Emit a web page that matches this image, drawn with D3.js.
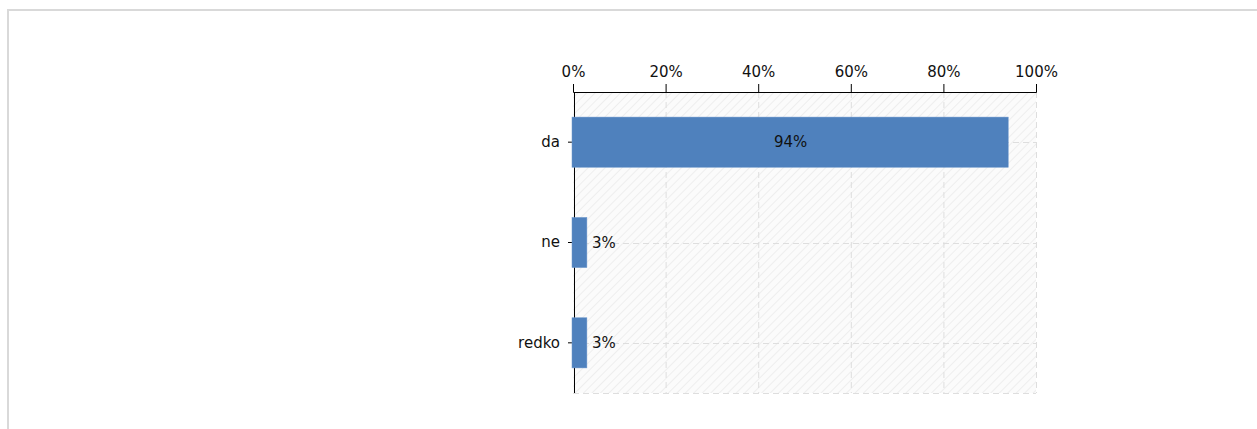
<!DOCTYPE html>
<html>
<head>
<meta charset="utf-8">
<script src="https://cdn.jsdelivr.net/npm/d3@7"></script>
<style>
  body { margin: 0; background: #fff; }
  svg { display: block; font-family: "DejaVu Sans", Verdana, sans-serif; }
</style>
</head>
<body>
<svg id="chart" width="1257" height="429"></svg>
<script>
const categories = ['da', 'ne', 'redko'];
const values = [94, 3, 3];
const tickValues = [0, 20, 40, 60, 80, 100];

const svg = d3.select('#chart');
const W = 1257, H = 429;
const plotLeft = 573, plotRight = 1036, plotTop = 92, plotBottom = 393;

// outer frame
svg.append('rect')
  .attr('x', 8).attr('y', 10)
  .attr('width', W + 10).attr('height', H + 10)
  .attr('fill', 'none').attr('stroke', '#d9d9d9').attr('stroke-width', 2);

const x = d3.scaleLinear().domain([0, 100]).range([plotLeft, plotRight]);
const y = d3.scaleBand().domain(categories).range([plotTop, plotBottom]).paddingInner(0.5).paddingOuter(0.25);

// hatch pattern
const defs = svg.append('defs');
const pat = defs.append('pattern')
  .attr('id', 'hatch').attr('patternUnits', 'userSpaceOnUse')
  .attr('width', 6).attr('height', 6)
  .attr('patternTransform', 'rotate(45)');
pat.append('rect').attr('width', 6).attr('height', 6).attr('fill', '#fbfbfb');
pat.append('line').attr('x1', 0).attr('y1', 0).attr('x2', 0).attr('y2', 6)
  .attr('stroke', '#eeeeee').attr('stroke-width', 2);

svg.append('rect')
  .attr('x', plotLeft).attr('y', plotTop)
  .attr('width', plotRight - plotLeft).attr('height', plotBottom - plotTop)
  .attr('fill', 'url(#hatch)');

// grid
const grid = svg.append('g').attr('stroke', '#dedede').attr('stroke-dasharray', '6,4').attr('fill', 'none');
grid.selectAll('line.v').data(tickValues.slice(1)).enter().append('line')
  .attr('x1', d => x(d) + 0.5).attr('x2', d => x(d) + 0.5)
  .attr('y1', plotTop).attr('y2', plotBottom);
grid.selectAll('line.h').data(categories).enter().append('line')
  .attr('x1', plotLeft).attr('x2', plotRight)
  .attr('y1', d => Math.round(y(d) + y.bandwidth() / 2) + 0.5)
  .attr('y2', d => Math.round(y(d) + y.bandwidth() / 2) + 0.5);
grid.append('line')
  .attr('x1', plotLeft).attr('x2', plotRight)
  .attr('y1', plotBottom + 0.5).attr('y2', plotBottom + 0.5);

// top axis
const xAxis = svg.append('g')
  .attr('transform', `translate(0,${plotTop})`)
  .call(d3.axisTop(x).tickValues(tickValues).tickFormat(d => d + '%').tickSize(8).tickPadding(7));
xAxis.select('.domain').attr('stroke', '#000').attr('d', `M${plotLeft + 0.5},${-8}V0.5H${plotRight + 0.5}V${-8}`);
xAxis.selectAll('text').attr('font-size', 15).attr('fill', '#111').attr('font-family', 'DejaVu Sans, sans-serif');

// left axis
const yAxis = svg.append('g')
  .attr('transform', `translate(${plotLeft + 1},0)`)
  .call(d3.axisLeft(y).tickSize(6).tickPadding(8));
yAxis.select('.domain').attr('d', `M0.5,${plotTop}V${plotBottom}`).attr('stroke', '#000');
yAxis.selectAll('text').attr('font-size', 15).attr('fill', '#111').attr('font-family', 'DejaVu Sans, sans-serif');

// bars (drawn over the axis line)
svg.selectAll('rect.bar').data(values).enter().append('rect')
  .attr('class', 'bar')
  .attr('x', x(0) - 1)
  .attr('y', (d, i) => y(categories[i]))
  .attr('width', d => x(d) - x(0) + 1)
  .attr('height', y.bandwidth())
  .attr('fill', '#4f81bd')
  .attr('stroke', '#6d97cc').attr('stroke-width', 0.5);

// value labels
svg.selectAll('text.val').data(values).enter().append('text')
  .attr('x', d => d > 20 ? (x(0) + x(d)) / 2 : x(d) + 5)
  .attr('y', (d, i) => y(categories[i]) + y.bandwidth() / 2)
  .attr('dy', '0.35em')
  .attr('text-anchor', d => d > 20 ? 'middle' : 'start')
  .attr('font-size', 15).attr('fill', '#111')
  .text(d => d + '%');
</script>
</body>
</html>
